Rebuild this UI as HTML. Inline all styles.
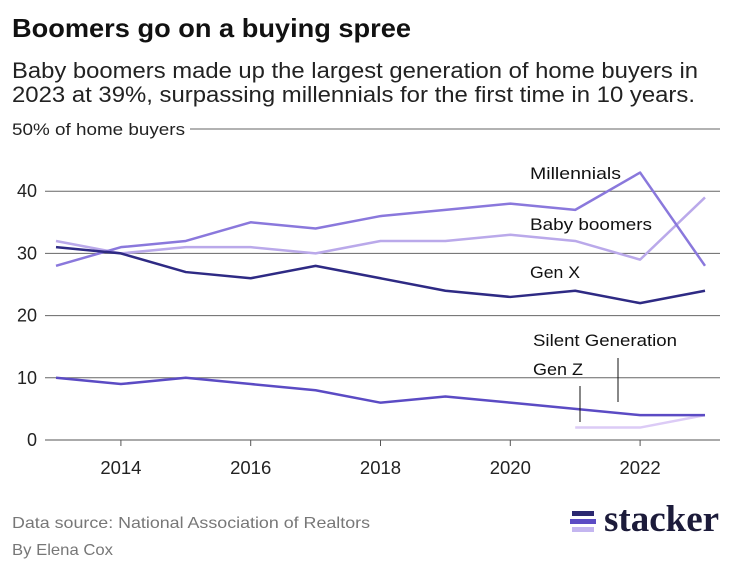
<!DOCTYPE html>
<html><head><meta charset="utf-8"><style>
body{margin:0;background:#fff;width:737px;height:573px;overflow:hidden;font-family:"Liberation Sans",sans-serif;}
</style></head><body>
<svg id="c" width="737" height="573" style="position:absolute;left:0;top:0" font-family="Liberation Sans, sans-serif">
<text x="12" y="37" font-size="26" font-weight="bold" fill="#111" textLength="399" lengthAdjust="spacingAndGlyphs">Boomers go on a buying spree</text>
<text x="12" y="78" font-size="22" fill="#222" textLength="686" lengthAdjust="spacingAndGlyphs">Baby boomers made up the largest generation of home buyers in</text>
<text x="12" y="102" font-size="22" fill="#222" textLength="683" lengthAdjust="spacingAndGlyphs">2023 at 39%, surpassing millennials for the first time in 10 years.</text>
<text x="12" y="528" font-size="16" fill="#777" textLength="358" lengthAdjust="spacingAndGlyphs">Data source: National Association of Realtors</text>
<text x="12" y="555" font-size="16" fill="#777" textLength="101" lengthAdjust="spacingAndGlyphs">By Elena Cox</text>
</svg>
<div style="position:absolute;left:570px;top:508px">
<div style="position:absolute;left:2px;top:3px;width:22px;height:5px;background:#2b2870"></div>
<div style="position:absolute;left:0;top:11px;width:26px;height:5px;background:#5b4bc4"></div>
<div style="position:absolute;left:2px;top:19px;width:22px;height:5px;background:#c4b6f0"></div>
<div style="position:absolute;left:34px;top:-10px;font-family:'Liberation Serif',serif;font-weight:bold;font-size:37px;color:#1c1b3a">stacker</div>
</div>
<script>
const years=[2013,2014,2015,2016,2017,2018,2019,2020,2021,2022,2023];
const millennials=[28,31,32,35,34,36,37,38,37,43,28];
const boomers=[32,30,31,31,30,32,32,33,32,29,39];
const genX=[31,30,27,26,28,26,24,23,24,22,24];
const silent=[10,9,10,9,8,6,7,6,5,4,4];
const genZYears=[2021,2022,2023];
const genZ=[2,2,4];
const yTicks=[0,10,20,30,40,50];
const xTicks=[2014,2016,2018,2020,2022];
const NS="http://www.w3.org/2000/svg";
const svg=document.getElementById('c');
const x=y=>56+(y-2013)*64.9;
const yy=v=>440-v*6.22;
function mk(t,a){const e=document.createElementNS(NS,t);for(const k in a)e.setAttribute(k,a[k]);svg.appendChild(e);return e;}
yTicks.forEach(v=>{
 const g=mk('line',{x1:v==50?190:45,x2:720,y1:yy(v),y2:yy(v),stroke:v==0?'#555':'#666','stroke-width':1});
 
 
 const t=mk('text',{x:v==50?12:37,y:yy(v)+6,'font-size':v==50?17:18,fill:'#222','text-anchor':v==50?'start':'end'});
 if(v==50){t.setAttribute('textLength',173);t.setAttribute('lengthAdjust','spacingAndGlyphs');}
 t.textContent=v==50?'50% of home buyers':v;
 
 
});
xTicks.forEach(v=>{
 const l=mk('line',{x1:x(v),x2:x(v),y1:440,y2:446,stroke:'#555'});
 
 
 const t=mk('text',{x:x(v),y:474,'font-size':18.5,fill:'#222','text-anchor':'middle'});
 t.textContent=v;
 
 
});
function series(xs,vals,col,name){
 const p=mk('polyline',{points:xs.map((yr,i)=>x(yr)+','+yy(vals[i])).join(' '),fill:'none',stroke:col,'stroke-width':2.5,'stroke-linejoin':'round'});
 
 
}
series(genZYears,genZ,'#dccbf6','line-gen-z');
series(years,boomers,'#baa9ea','line-baby-boomers');
series(years,millennials,'#8a78dc','line-millennials');
series(years,genX,'#2e2a84','line-gen-x');
series(years,silent,'#5b4bc4','line-silent-generation');
const labels=[['Millennials',530,179,91],['Baby boomers',530,230,122],['Gen X',530,278,50],['Silent Generation',533,346,144],['Gen Z',533,375,50]];
labels.forEach(l=>{
 const t=mk('text',{x:l[1],y:l[2],'font-size':17,fill:'#111',textLength:l[3],lengthAdjust:'spacingAndGlyphs'});
 t.textContent=l[0];
 
 
});
mk('line',{x1:618,x2:618,y1:358,y2:402,stroke:'#111'});
mk('line',{x1:580,x2:580,y1:386,y2:422,stroke:'#111'});
</script>
</body></html>
